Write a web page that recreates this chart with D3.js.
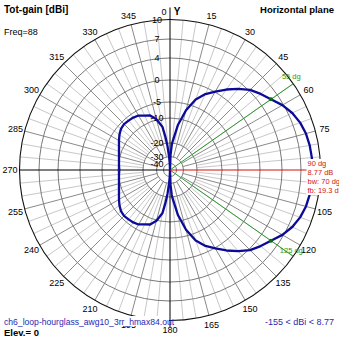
<!DOCTYPE html>
<html><head><meta charset="utf-8">
<script src="https://cdn.jsdelivr.net/npm/d3@7"></script>
<style>html,body{margin:0;padding:0;background:#fff;overflow:hidden}</style>
</head><body><svg id="c" width="339" height="339"></svg>
<script>
// ---- data ----
const patternAngles = [0,2,4,5,10,15,20,25,30,35,40,45,50,55,60,65,70,75,80,85,90,
  95,100,105,110,115,120,125,130,135,140,145,150,155,160,165,170,175,176,178,180,
  182,184,186,188,190,195,200,205,210,215,220,225,230,235,240,245,250,255,260,265,270,
  275,280,285,290,295,300,305,310,315,320,325,330,335,340,345,350,352,354,356,358,360];
const patternGain = [-155,-29,-21.5,-19.6,-12.5,-6.9,-3.4,-1.4,0.1,1.5,2.9,4.2,5.0,5.77,6.8,7.6,8.15,8.5,8.67,8.75,8.77,
  8.75,8.67,8.5,8.15,7.6,6.8,5.77,5.0,4.2,2.9,1.5,0.1,-1.4,-3.4,-6.9,-12.5,-19.6,-21.5,-29,-155,
  -40,-30,-22.2,-17.2,-13.2,-9.84,-8.13,-7.47,-6.6,-6.25,-6.1,-5.94,-6.25,-6.97,-7.84,-8.66,-9.28,-9.75,-10.08,-10.32,-10.53,
  -10.32,-10.08,-9.75,-9.28,-8.66,-7.84,-6.97,-6.25,-5.94,-6.1,-6.25,-6.6,-7.47,-8.13,-9.84,-13.2,-17.2,-22.2,-30,-40,-155];
const ringValues = [10,7,4,0,-5,-10,-20,-30,-40];
const angleTicks = [0,15,30,45,60,75,105,120,135,150,165,180,195,210,225,240,255,270,285,300,315,330,345];
const bwAngles = [55,125];
const maxAngle = 90, maxGain = 8.77, beamWidth = 70, frontBack = 19.3, minGain = -155;
const titleText = "Tot-gain [dBi]", planeText = "Horizontal plane", freqText = "Freq=88",
      elevText = "Elev.= 0", fileText = "ch6_loop-hourglass_awg10_3rr_hmax84.out";

// ---- drawing ----
const svg = d3.select("#c");
const cx = 170, cy = 170, R = 150.5;
const font = "'Liberation Sans', Arial, sans-serif";
const r = d3.scaleLinear()
  .domain([-60,-40,-30,-20,-10,-5,0,4,7,10])
  .range([0,6.5,13.5,27,52,68,90,112,131,R]).clamp(true);
const rad = d => d*Math.PI/180;
const P = (a, rr) => [cx + rr*Math.sin(rad(a)), cy - rr*Math.cos(rad(a))];

svg.append("rect").attr("width",339).attr("height",339).attr("fill","#fff");
const g = svg.append("g");

// radial grid lines
const minor = d3.range(0,360,5).filter(a => a%15 !== 0);
const major = d3.range(0,360,15).filter(a => a%90 !== 0);
g.selectAll("line.mi").data(minor).join("line")
  .attr("x1",a=>P(a,r(-20))[0]).attr("y1",a=>P(a,r(-20))[1])
  .attr("x2",a=>P(a,r(10))[0]).attr("y2",a=>P(a,r(10))[1])
  .attr("stroke","#c8c8c8").attr("stroke-width",1);
g.selectAll("line.ma").data(major).join("line")
  .attr("x1",a=>P(a,r(-30))[0]).attr("y1",a=>P(a,r(-30))[1])
  .attr("x2",a=>P(a,r(10))[0]).attr("y2",a=>P(a,r(10))[1])
  .attr("stroke","#8a8a8a").attr("stroke-width",1);

// rings
g.selectAll("circle.ring").data(ringValues.slice(1)).join("circle")
  .attr("cx",cx).attr("cy",cy).attr("r",d=>r(d))
  .attr("fill","none").attr("stroke","#7a7a7a").attr("stroke-width",1);
g.append("circle").attr("cx",cx).attr("cy",cy).attr("r",r(ringValues[0]))
  .attr("fill","none").attr("stroke","#111").attr("stroke-width",1.1);

// axes
g.append("line").attr("x1",cx).attr("x2",cx).attr("y1",cy-R-12).attr("y2",cy+R+7)
  .attr("stroke","#000").attr("stroke-width",1);
g.append("line").attr("x1",cx-R).attr("x2",cx).attr("y1",cy).attr("y2",cy)
  .attr("stroke","#000").attr("stroke-width",1);

// ring labels
g.selectAll("text.rl").data(ringValues).join("text")
  .attr("x",157).attr("y",d=>cy - r(d)).attr("dy","0.36em")
  .attr("text-anchor","middle").attr("font-family",font).attr("font-size",9)
  .attr("fill","#000").text(d=>d);

// angle labels
g.selectAll("text.al").data(angleTicks).join("text")
  .attr("x",a=>P(a,160)[0] - (a===0?6:0)).attr("y",a=>P(a,160)[1] + (a===0?2:0)).attr("dy","0.36em")
  .attr("text-anchor","middle").attr("font-family",font).attr("font-size",9)
  .attr("fill","#000").text(a=>a);
g.append("text").attr("x",P(0,160)[0]+7).attr("y",P(0,160)[1]+5)
  .attr("text-anchor","middle").attr("font-family",font).attr("font-size",10)
  .attr("font-weight","bold").text("Y");

// beamwidth lines
g.selectAll("line.bw").data(bwAngles).join("line")
  .attr("x1",cx).attr("y1",cy)
  .attr("x2",a=>P(a,R+1)[0]).attr("y2",a=>P(a,R+1)[1])
  .attr("stroke","#2c9a2c").attr("stroke-width",1);

// pattern trace
const line = d3.lineRadial()
  .angle((d,i)=>rad(patternAngles[i]))
  .radius((d,i)=>r(patternGain[i]));
g.append("path").attr("transform",`translate(${cx},${cy})`)
  .attr("d", line(patternAngles))
  .attr("fill","none").attr("stroke","#0b0b98").attr("stroke-width",2.3)
  .attr("stroke-linejoin","round");

// -3 dB dots
g.selectAll("circle.bwd").data(bwAngles).join("circle")
  .attr("cx",a=>P(a,r(maxGain-3))[0]).attr("cy",a=>P(a,r(maxGain-3))[1])
  .attr("r",2).attr("fill","#0a6a0a");
g.selectAll("text.bwl").data(bwAngles).join("text")
  .attr("x",a=>P(a,R)[0]-2).attr("y",a=>P(a,R)[1]-(a<90?5:3))
  .attr("text-anchor","middle").attr("font-family",font).attr("font-size",7.5)
  .attr("fill","#1f9a1f").text(a=>a+" dg");

// max direction line
g.append("line").attr("x1",cx).attr("y1",cy)
  .attr("x2",P(maxAngle,R)[0]).attr("y2",P(maxAngle,R)[1])
  .attr("stroke","#d01010").attr("stroke-width",1);
const ann = [maxAngle+" dg", maxGain+" dB", "bw: "+beamWidth+" dg", "fb: "+frontBack+" dB"];
const ax = P(maxAngle,R)[0] - 13, ay = P(maxAngle,R)[1];
g.append("rect").attr("x",ax-1).attr("y",ay-11).attr("width",40).attr("height",36).attr("fill","#fff");
g.selectAll("text.ann").data(ann).join("text")
  .attr("x",ax).attr("y",(d,i)=>ay-4+i*9)
  .attr("font-family",font).attr("font-size",7.5).attr("fill","#d01818").text(d=>d);

// titles
svg.append("text").attr("x",4).attr("y",13).attr("font-family",font).attr("font-size",10)
  .attr("font-weight","bold").text(titleText);
svg.append("text").attr("x",334).attr("y",13).attr("text-anchor","end").attr("font-family",font)
  .attr("font-size",9.5).attr("font-weight","bold").text(planeText);
svg.append("text").attr("x",4).attr("y",35).attr("font-family",font).attr("font-size",9).text(freqText);
svg.append("rect").attr("x",3).attr("y",316).attr("width",166).attr("height",10).attr("fill","#fff");
svg.append("text").attr("x",4).attr("y",325).attr("font-family",font).attr("font-size",8.6)
  .attr("fill","#2828b4").text(fileText);
svg.append("text").attr("x",334).attr("y",325).attr("text-anchor","end").attr("font-family",font)
  .attr("font-size",9).attr("fill","#2828b4").text(minGain+" < dBi < "+maxGain);
svg.append("text").attr("x",4).attr("y",336).attr("font-family",font).attr("font-size",9.5)
  .attr("font-weight","bold").text(elevText);
</script></body></html>
